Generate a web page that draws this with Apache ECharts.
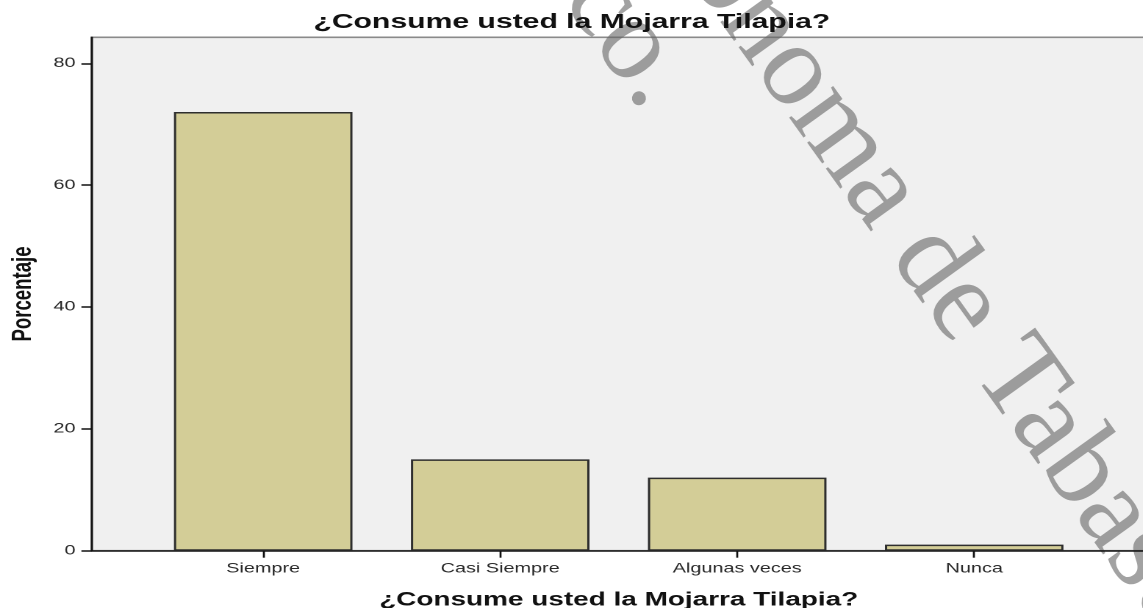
<!DOCTYPE html>
<html>
<head>
<meta charset="utf-8">
<script src="https://cdn.jsdelivr.net/npm/echarts@6/dist/echarts.min.js"></script>
<style>
  html, body { margin: 0; padding: 0; background: #fff; overflow: hidden; }
  #chart { position: absolute; left: 0; top: 0; height: 608px; transform-origin: 0 0; }
</style>
</head>
<body>
<div id="chart"></div>
<script>
// Data
const categories = ['Siempre', 'Casi Siempre', 'Algunas veces', 'Nunca'];
const porcentajes = [72, 15, 12, 1];
const yTicks = [0, 20, 40, 60, 80];
const titulo = '¿Consume usted la Mojarra Tilapia?';
const ejeY = 'Porcentaje';
const marcaAgua = ['Universidad Juárez Autónoma de Tabasco.', 'México.'];

// The figure is laid out narrow and then widened horizontally on the page.
const PAGE_W = 1143;
const STRETCH = 1.47;
const W = PAGE_W / STRETCH;
const sx = v => v / STRETCH;

const dom = document.getElementById('chart');
dom.style.width = W + 'px';
dom.style.transform = 'scaleX(' + STRETCH + ')';

const chart = echarts.init(dom, null, { renderer: 'canvas', devicePixelRatio: 2 });

const FONT = '"Liberation Sans", Arial, Helvetica, sans-serif';
const deg = Math.PI / 180;

chart.setOption({
  animation: false,
  backgroundColor: '#ffffff',
  title: {
    text: titulo,
    left: 'center',
    top: 7,
    textStyle: { fontFamily: FONT, fontSize: 20.5, fontWeight: 'bold', color: '#111' }
  },
  grid: {
    left: sx(91.7),
    top: 37.3,
    width: sx(1054),
    height: 513.4,
    outerBoundsMode: 'none',
    containLabel: false,
    show: true,
    backgroundColor: '#f0f0f0',
    borderColor: '#8a8a8a',
    borderWidth: 1.6
  },
  xAxis: {
    type: 'value',
    min: -0.7236,
    max: 3.7236,
    name: titulo,
    nameLocation: 'middle',
    nameGap: 40,
    nameTextStyle: { fontFamily: FONT, fontSize: 19, fontWeight: 'bold', color: '#111' },
    axisLine: { show: true, onZero: false, lineStyle: { color: '#111', width: 1.5 } },
    axisTick: { show: true, customValues: [0, 1, 2, 3], length: 7, lineStyle: { color: '#111', width: sx(2) } },
    axisLabel: {
      customValues: [0, 1, 2, 3],
      margin: 11,
      fontFamily: FONT,
      fontSize: 13.5,
      color: '#2a2a2a',
      formatter: v => categories[Math.round(v)]
    },
    splitLine: { show: false }
  },
  yAxis: {
    type: 'value',
    min: 0,
    max: 84.27,
    name: ejeY,
    nameLocation: 'middle',
    nameRotate: 90,
    nameGap: 33,
    nameTextStyle: { fontFamily: FONT, fontSize: 18.6, fontWeight: 'bold', color: '#111' },
    axisLine: { show: true, onZero: false, lineStyle: { color: '#111', width: 1.4 } },
    axisTick: { show: true, customValues: yTicks, length: 7, lineStyle: { color: '#111', width: 1.5 } },
    axisLabel: {
      customValues: yTicks,
      margin: 11,
      fontFamily: FONT,
      fontSize: 13.5,
      color: '#2a2a2a'
    },
    splitLine: { show: false }
  },
  series: [{
    type: 'bar',
    data: porcentajes.map((v, i) => [i, v]),
    barWidth: sx(178.5),
    itemStyle: { color: '#d3cd97', borderColor: '#2e2e2e', borderWidth: 1.5 }
  }],
  graphic: [{
    // watermark: un-stretched, rotated serif text across the page
    type: 'group',
    scaleX: 1 / STRETCH,
    z: 100,
    silent: true,
    children: [{
      type: 'group',
      x: 638,
      y: -123,
      rotation: -54.3 * deg,
      children: marcaAgua.map((t, i) => ({
        type: 'text',
        x: 0,
        y: i * 116 - 13.3,
        style: {
          text: t,
          font: '118px "Liberation Serif", "Times New Roman", serif',
          fill: 'rgba(100,100,100,0.6)',
          align: 'center',
          textAlign: 'center',
          verticalAlign: 'middle',
          textVerticalAlign: 'middle'
        }
      }))
    }]
  }]
});
</script>
</body>
</html>
